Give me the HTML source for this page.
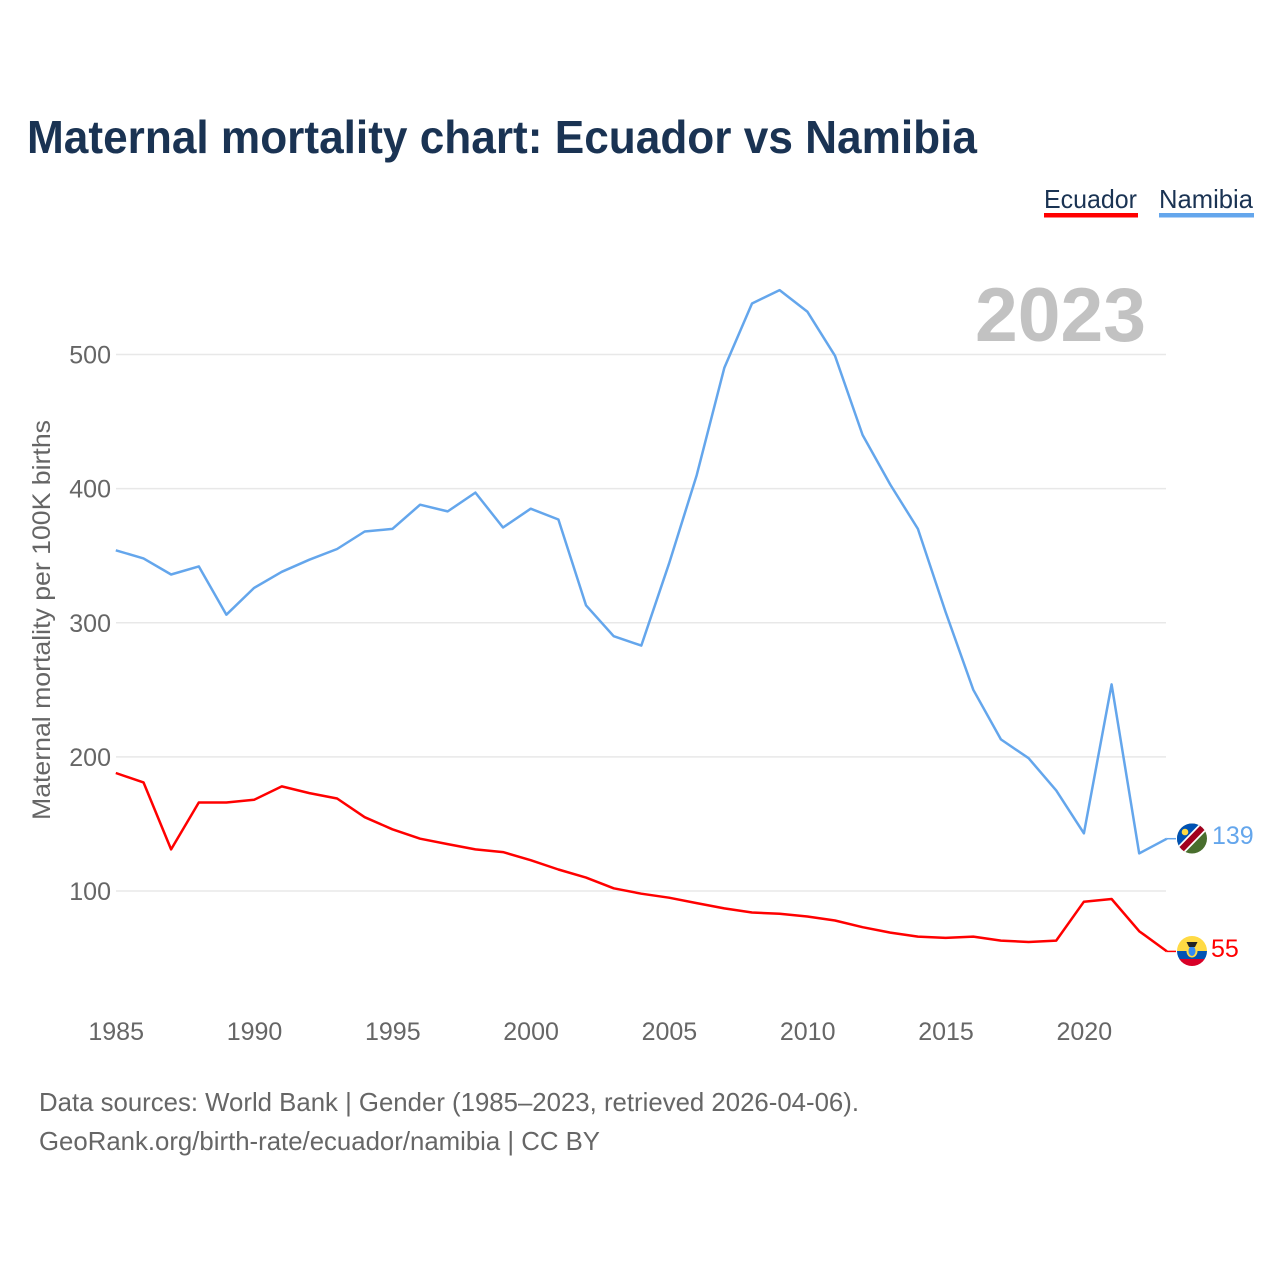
<!DOCTYPE html>
<html>
<head>
<meta charset="utf-8">
<style>
html,body{margin:0;padding:0;background:#fff;}
svg{display:block;font-family:"Liberation Sans",sans-serif;}
</style>
</head>
<body>
<svg id="chart" width="1280" height="1280" viewBox="0 0 1280 1280" xmlns="http://www.w3.org/2000/svg">
  <rect width="1280" height="1280" fill="#fff"/>
  <text x="27" y="153" font-size="46" font-weight="bold" fill="#1a3353" textLength="950" lengthAdjust="spacingAndGlyphs">Maternal mortality chart: Ecuador vs Namibia</text>
  <g>
    <text x="1044" y="208" font-size="26" fill="#1a3353" textLength="93" lengthAdjust="spacingAndGlyphs">Ecuador</text>
    <rect x="1044" y="213" width="94" height="4.5" fill="#ff0000"/>
    <text x="1159" y="208" font-size="26" fill="#1a3353" textLength="94" lengthAdjust="spacingAndGlyphs">Namibia</text>
    <rect x="1159" y="213" width="95" height="4.5" fill="#64a6ec"/>
  </g>
  <text x="975" y="341" font-size="76" font-weight="bold" fill="#c2c2c2" textLength="171" lengthAdjust="spacingAndGlyphs">2023</text>
  <g id="grid"></g>
  <g id="yticks"></g>
  <g id="xticks"></g>
  <text transform="translate(50,620) rotate(-90)" text-anchor="middle" font-size="25" fill="#666" textLength="400" lengthAdjust="spacingAndGlyphs">Maternal mortality per 100K births</text>
  <g id="series"></g>
  <g>
    <clipPath id="clipN"><circle cx="1192" cy="838.5" r="15"/></clipPath>
    <g clip-path="url(#clipN)">
      <rect x="1177" y="823" width="30" height="31" fill="#496e2d"/>
      <polygon points="1177,823 1207,823 1177,854" fill="#0052b4"/>
      <line x1="1177" y1="854" x2="1207" y2="823" stroke="#fff" stroke-width="9.5"/>
      <line x1="1177" y1="854" x2="1207" y2="823" stroke="#a2001d" stroke-width="6"/>
      <circle cx="1185" cy="832" r="3.3" fill="#ffda44"/>
    </g>
  </g>
  <g>
    <clipPath id="clipE"><circle cx="1192" cy="951" r="15"/></clipPath>
    <g clip-path="url(#clipE)">
      <rect x="1177" y="936" width="30" height="15" fill="#ffda44"/>
      <rect x="1177" y="951" width="30" height="8" fill="#0052b4"/>
      <rect x="1177" y="959" width="30" height="8" fill="#d80027"/>
      <ellipse cx="1192" cy="951" rx="5.5" ry="6.5" fill="#ffda44"/>
      <ellipse cx="1192" cy="951" rx="3.5" ry="5" fill="#338af3"/>
      <polygon points="1186.5,942 1197.5,942 1195,947 1189,947" fill="#222"/>
    </g>
  </g>
  <text x="1212" y="844" font-size="25" fill="#64a6ec">139</text>
  <text x="1211" y="957" font-size="25" fill="#ff0000">55</text>
  <text x="39" y="1111" font-size="26" fill="#666" textLength="820" lengthAdjust="spacingAndGlyphs">Data sources: World Bank | Gender (1985–2023, retrieved 2026-04-06).</text>
  <text x="39" y="1150" font-size="26" fill="#666" textLength="561" lengthAdjust="spacingAndGlyphs">GeoRank.org/birth-rate/ecuador/namibia | CC BY</text>
</svg>
<script>
var years = [1985,1986,1987,1988,1989,1990,1991,1992,1993,1994,1995,1996,1997,1998,1999,2000,2001,2002,2003,2004,2005,2006,2007,2008,2009,2010,2011,2012,2013,2014,2015,2016,2017,2018,2019,2020,2021,2022,2023];
var namibia = [354,348,336,342,306,326,338,347,355,368,370,388,383,397,371,385,377,313,290,283,344,410,490,538,548,532,499,440,403,370,308,250,213,199,175,143,254,128,139];
var ecuador = [188,181,131,166,166,168,178,173,169,155,146,139,135,131,129,123,116,110,102,98,95,91,87,84,83,81,78,73,69,66,65,66,63,62,63,92,94,70,55];
var yTickValues = [100,200,300,400,500];
var xTickValues = [1985,1990,1995,2000,2005,2010,2015,2020];

var NS = 'http://www.w3.org/2000/svg';
function xScale(year){ return 115.8 + (year - 1985) * 27.66; }
function yScale(value){ return 891 - (value - 100) * (891 - 354.5) / 400; }
function make(tag, parent, attrs){
  var el = document.createElementNS(NS, tag);
  for (var k in attrs) el.setAttribute(k, attrs[k]);
  document.getElementById(parent).appendChild(el);
  return el;
}
yTickValues.forEach(function(v){
  var line = make('line', 'grid', {x1:116, x2:1166, y1:yScale(v), y2:yScale(v), stroke:'#e8e8e8', 'stroke-width':1.5});
  
  
  var t = make('text', 'yticks', {x:111, y:yScale(v) + 9, 'text-anchor':'end', 'font-size':25, fill:'#666'});
  
  
  t.textContent = v;
});
xTickValues.forEach(function(v){
  var t = make('text', 'xticks', {x:xScale(v) + 0.4, y:1040, 'text-anchor':'middle', 'font-size':25, fill:'#666'});
  
  
  t.textContent = v;
});
function points(values){
  return years.map(function(y, i){ return xScale(y).toFixed(1) + ',' + yScale(values[i]).toFixed(1); }).join(' ');
}
function tail(values){
  var last = yScale(values[values.length - 1]);
  return 'M' + xScale(years[years.length - 1]).toFixed(1) + ' ' + last.toFixed(1) + 'H1176';
}
var nLine = make('polyline', 'series', {points:points(namibia), fill:'none', stroke:'#64a6ec', 'stroke-width':2.5, 'stroke-linejoin':'round'});


var eLine = make('polyline', 'series', {points:points(ecuador), fill:'none', stroke:'#ff0000', 'stroke-width':2.5, 'stroke-linejoin':'round'});


var nTail = make('path', 'series', {d:tail(namibia), fill:'none', stroke:'#64a6ec', 'stroke-width':1.5});


var eTail = make('path', 'series', {d:tail(ecuador), fill:'none', stroke:'#ff0000', 'stroke-width':1.5});


</script>
</body>
</html>
